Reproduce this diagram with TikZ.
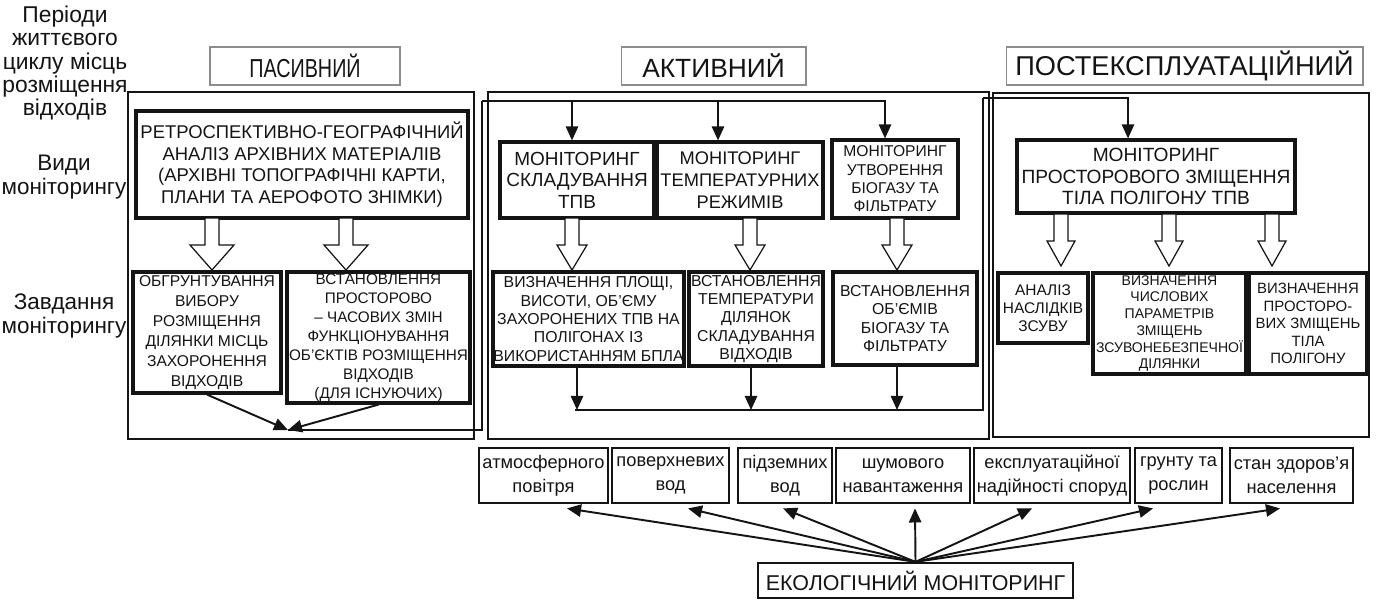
\documentclass[tikz,border=0pt]{standalone}
\usepackage{fontspec}
\setmainfont{Liberation Sans}
\newfontfamily\narrowsans{Liberation Sans}[FakeStretch=0.76]
\definecolor{mnInk}{HTML}{141414}
\definecolor{mnRule}{HTML}{8C8C8C}
\usetikzlibrary{arrows.meta}

\newcommand\fs[2]{\fontsize{#1}{#2}\selectfont}

\begin{document}
\begin{tikzpicture}[x=0.02cm,y=-0.02cm,
                    every node/.style={align=center,inner sep=0pt,text=mnInk},
                    period/.style={draw=mnRule,line width=0.6pt,minimum height=0.76cm},
                    frame/.style={draw=mnInk,line width=1.1pt},
                    mainbox/.style={draw=mnInk,line width=1.8pt},
                    envbox/.style={draw=mnInk,line width=1.6pt,minimum height=1.1cm,
                                   font=\fs{10.4}{13.6}},
                    conn/.style={draw=mnInk,line width=1.1pt},
                    arr/.style={conn,-{Triangle[length=8pt,width=7pt]}},
                    hol/.pic={\draw[mnInk,line width=0.7pt,fill=white]
                      (-7,0) -- (7,0) -- (7,27) -- (#1,27) -- (0,52) -- (-#1,27) -- (-7,27) -- cycle;}]
  \useasboundingbox (0,0) rectangle (1378,600);

  % row labels
  \node[font=\fs{13}{13.3}] (lPeriods) at (65,63) {Періоди\\життєвого\\циклу місць\\розміщення\\відходів};
  \node[font=\fs{12.8}{14}] (lKinds) at (64,177) {Види\\моніторингу};
  \node[font=\fs{12.8}{14}] (lTasks) at (64,316) {Завдання\\моніторингу};

  % periods
  \node[period,minimum width=3.8cm,font=\narrowsans\fs{14.8}{15}] (tPassive) at (305,66) {ПАСИВНИЙ};
  \node[period,minimum width=3.7cm,font=\fs{15}{16}] (tActive) at (713.5,66) {АКТИВНИЙ};
  \node[period,minimum width=7.14cm,font=\fs{15.5}{16}] (tPost) at (1184.5,66) {ПОСТЕКСПЛУАТАЦІЙНИЙ};

  \draw[frame] (128,92) rectangle (474,439);
  \draw[frame] (488,92) rectangle (989,439);
  \draw[frame] (993,93) rectangle (1369,437);

  % passive
  \node[mainbox,minimum width=6.64cm,minimum height=2.14cm,font=\fs{10.5}{12.3}] (pMain) at (302,164.5)
    {РЕТРОСПЕКТИВНО-ГЕОГРАФІЧНИЙ\\АНАЛІЗ АРХІВНИХ МАТЕРІАЛІВ\\(АРХІВНІ ТОПОГРАФІЧНІ КАРТИ,\\ПЛАНИ ТА АЕРОФОТО ЗНІМКИ)};
  \node[mainbox,minimum width=2.96cm,minimum height=2.42cm,font=\fs{8.9}{11.3}] (pTask1) at (207,332.5)
    {ОБГРУНТУВАННЯ\\ВИБОРУ\\РОЗМІЩЕННЯ\\ДІЛЯНКИ МІСЦЬ\\ЗАХОРОНЕННЯ\\ВІДХОДІВ};
  \node[mainbox,minimum width=3.66cm,minimum height=2.62cm,font=\fs{8.7}{10.8}] (pTask2) at (378.5,337.5)
    {ВСТАНОВЛЕННЯ\\ПРОСТОРОВО\\– ЧАСОВИХ ЗМІН\\ФУНКЦІОНУВАННЯ\\ОБ’ЄКТІВ РОЗМІЩЕННЯ\\ВІДХОДІВ\\(ДЛЯ ІСНУЮЧИХ)};
  \pic at (212,218) {hol=22};
  \pic at (346,218) {hol=22};

  % active
  \node[mainbox,minimum width=3.08cm,minimum height=1.52cm,font=\fs{10.8}{12.3}] (aMon1) at (577,180)
    {МОНІТОРИНГ\\СКЛАДУВАННЯ\\ТПВ};
  \node[mainbox,minimum width=3.32cm,minimum height=1.52cm,font=\fs{10.4}{12.3}] (aMon2) at (740,180)
    {МОНІТОРИНГ\\ТЕМПЕРАТУРНИХ\\РЕЖИМІВ};
  \node[mainbox,minimum width=2.52cm,minimum height=1.56cm,font=\fs{8.9}{10.4}] (aMon3) at (895,179)
    {МОНІТОРИНГ\\УТВОРЕННЯ\\БІОГАЗУ ТА\\ФІЛЬТРАТУ};
  \node[mainbox,minimum width=3.82cm,minimum height=1.88cm,font=\fs{9}{10.5}] (aTask1) at (588.5,319)
    {ВИЗНАЧЕННЯ ПЛОЩІ,\\ВИСОТИ, ОБ’ЄМУ\\ЗАХОРОНЕНИХ ТПВ НА\\ПОЛІГОНАХ ІЗ\\ВИКОРИСТАННЯМ БПЛА};
  \node[mainbox,minimum width=2.68cm,minimum height=1.88cm,font=\fs{9}{10.5}] (aTask2) at (756,319)
    {ВСТАНОВЛЕННЯ\\ТЕМПЕРАТУРИ\\ДІЛЯНОК\\СКЛАДУВАННЯ\\ВІДХОДІВ};
  \node[mainbox,minimum width=2.88cm,minimum height=1.86cm,font=\fs{9}{10.5}] (aTask3) at (905,318.5)
    {ВСТАНОВЛЕННЯ\\ОБ’ЄМІВ\\БІОГАЗУ ТА\\ФІЛЬТРАТУ};
  \pic at (572,218) {hol=15};
  \pic at (750,218) {hol=15};
  \pic at (897,218) {hol=15};

  % post-operation
  \node[mainbox,minimum width=5.56cm,minimum height=1.46cm,font=\fs{10.9}{12.3}] (sMon) at (1156,176.5)
    {МОНІТОРИНГ\\ПРОСТОРОВОГО ЗМІЩЕННЯ\\ТІЛА ПОЛІГОНУ ТПВ};
  \node[mainbox,minimum width=1.8cm,minimum height=1.4cm,font=\fs{8.8}{10.2}] (sTask1) at (1043,308)
    {АНАЛІЗ\\НАСЛІДКІВ\\ЗСУВУ};
  \node[mainbox,minimum width=3.06cm,minimum height=2.02cm,font=\fs{8}{9.5}] (sTask2) at (1169.5,323.5)
    {ВИЗНАЧЕННЯ\\ЧИСЛОВИХ\\ПАРАМЕТРІВ\\ЗМІЩЕНЬ\\ЗСУВОНЕБЕЗПЕЧНОЇ\\ДІЛЯНКИ};
  \node[mainbox,minimum width=2.36cm,minimum height=2.02cm,font=\fs{8.5}{9.9}] (sTask3) at (1308,323.5)
    {ВИЗНАЧЕННЯ\\ПРОСТОРО-\\ВИХ ЗМІЩЕНЬ\\ТІЛА\\ПОЛІГОНУ};
  \pic at (1061,214) {hol=14};
  \pic at (1169,214) {hol=14};
  \pic at (1272,214) {hol=14};

  % links between periods
  \coordinate (pJoin) at (288,430);
  \coordinate (aBus) at (482,101);
  \coordinate (aJoin) at (575,410);
  \coordinate (sBus) at (983,98);
  \draw[arr] (pTask1.south) -- (pJoin);
  \draw[arr] (pTask2.south) -- (pJoin);
  \draw[conn] (pJoin) -| (aBus);
  \draw[arr] (aBus) -| ([xshift=-0.2cm]aMon3.north);
  \draw[arr] ([xshift=-0.1cm]aMon1.north |- aBus) -- ([xshift=-0.1cm]aMon1.north);
  \draw[arr] ([xshift=-0.44cm]aMon2.north |- aBus) -- ([xshift=-0.44cm]aMon2.north);
  \draw[arr] ([xshift=-0.23cm]aTask1.south) -- ([xshift=-0.23cm]aTask1.south |- aJoin);
  \draw[arr] ([xshift=-0.1cm]aTask2.south) -- ([xshift=-0.1cm]aTask2.south |- aJoin);
  \draw[arr] ([xshift=-0.16cm]aTask3.south) -- ([xshift=-0.16cm]aTask3.south |- aJoin);
  \draw[conn] (aJoin) -| (sBus);
  \draw[arr] (sBus) -| ([xshift=-0.56cm]sMon.north);

  % environmental monitoring
  \node[envbox,minimum width=2.58cm] (e1) at (543.5,475.5) {атмосферного\\повітря};
  \node[envbox,minimum width=2.34cm] (e2) at (670.5,475.5) {поверхневих\\вод};
  \node[envbox,minimum width=1.88cm] (e3) at (785,475.5) {підземних\\вод};
  \node[envbox,minimum width=2.68cm] (e4) at (903,475.5) {шумового\\навантаження};
  \node[envbox,minimum width=3.12cm] (e5) at (1052,475.5) {експлуатаційної\\надійності споруд};
  \node[envbox,minimum width=1.74cm] (e6) at (1178.5,475.5) {грунту та\\рослин};
  \node[envbox,minimum width=2.46cm] (e7) at (1291.5,475.5) {стан здоров'я\\населення};
  \node[draw=mnInk,line width=1.3pt,minimum width=6.3cm,minimum height=0.7cm,font=\fs{12.2}{13}] (eco)
    at (915.5,580.5) {ЕКОЛОГІЧНИЙ МОНІТОРИНГ};
  \foreach \n/\s in {e1/0.47,e2/0.35,e3/-0.04,e4/0.24,e5/-0.4,e6/-0.51,e7/-0.23}
    \draw[arr] (eco.north) -- ([xshift=\s cm,yshift=-0.08cm]\n.south);
\end{tikzpicture}
\end{document}
